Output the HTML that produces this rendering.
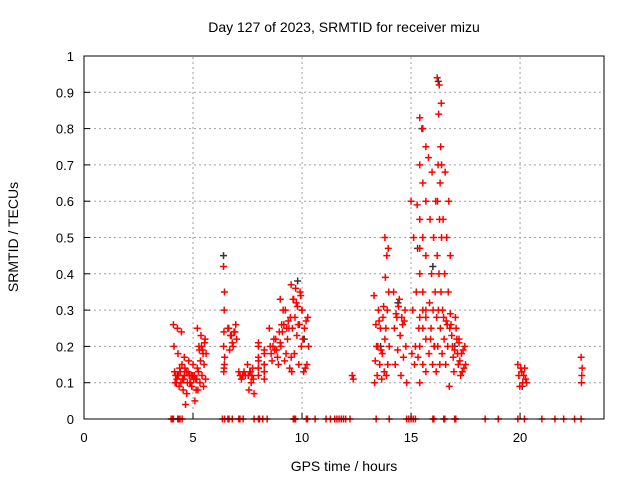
<!DOCTYPE html>
<html><head><meta charset="utf-8"><style>
body{margin:0;background:#fff}
svg text{font-family:"Liberation Sans",sans-serif;fill:#000}
</style></head><body>
<svg id="chart" width="640" height="480" viewBox="0 0 640 480" xmlns="http://www.w3.org/2000/svg">
<rect width="640" height="480" fill="#fff"/>
<text x="344" y="32" font-size="14" text-anchor="middle">Day 127 of 2023, SRMTID for receiver mizu</text>
<text x="344" y="471" font-size="14" text-anchor="middle">GPS time / hours</text>
<text x="18" y="237" font-size="14" text-anchor="middle" transform="rotate(-90 18 237)">SRMTID / TECUs</text>
<g id="grid"></g><g id="marks"></g><g id="axes"></g>
</svg>
<script>
const xTicks=[0,5,10,15,20];
const yTicks=[0,0.1,0.2,0.3,0.4,0.5,0.6,0.7,0.8,0.9,1];
const yTickLabels=["0","0.1","0.2","0.3","0.4","0.5","0.6","0.7","0.8","0.9","1"];
const clusterStart=[4.1,4.6,5.2,6.4,6.6,7.1,7.5,8.0,8.5,9.0,9.5,10.0,12.3,13.3,13.8,14.2,15.0,15.4,15.8,16.2,16.4,16.8,17.2,19.9,22.8];
const clusterEnd=[4.6,5.2,5.6,6.45,7.0,7.4,7.8,8.5,9.0,9.5,10.0,10.3,12.35,13.8,14.0,14.8,15.4,15.8,16.2,16.4,16.8,17.2,17.5,20.3,22.85];
const clusterValues=[
[0.26,0.25,0.24,0.2,0.18,0.15,0.13,0.12,0.11,0.1,0.09,0.08,0.12,0.14,0.11,0.1,0.13,0.12,0.11,0.1],
[0.17,0.16,0.15,0.14,0.13,0.12,0.11,0.1,0.09,0.08,0.07,0.12,0.11,0.13,0.1,0.05,0.04,0.1,0.12,0.14,0.12,0.11],
[0.25,0.23,0.21,0.2,0.19,0.18,0.16,0.15,0.13,0.12,0.11,0.1,0.09,0.08,0.2,0.22,0.19,0.18],
[0.42,0.35,0.3,0.24,0.2,0.17,0.15,0.14,0.13],
[0.25,0.24,0.23,0.22,0.2,0.19,0.26,0.21,0.25,0.24,0.23],
[0.13,0.12,0.11,0.12,0.13,0.12],
[0.15,0.14,0.13,0.12,0.11,0.1,0.08,0.07,0.12,0.13],
[0.2,0.18,0.17,0.15,0.14,0.13,0.12,0.11,0.16,0.19,0.21,0.13,0.14,0.15],
[0.25,0.22,0.2,0.19,0.18,0.17,0.16,0.15,0.2,0.24,0.22,0.21,0.19],
[0.33,0.3,0.28,0.26,0.25,0.24,0.22,0.2,0.18,0.17,0.16,0.14,0.3,0.27,0.26,0.25],
[0.37,0.36,0.35,0.33,0.31,0.3,0.28,0.26,0.25,0.23,0.2,0.18,0.15,0.13,0.32,0.34,0.33,0.26],
[0.3,0.28,0.27,0.25,0.22,0.2,0.15,0.14,0.13],
[0.12,0.11],
[0.34,0.3,0.28,0.26,0.25,0.22,0.2,0.18,0.16,0.15,0.13,0.12,0.11,0.1,0.27,0.31,0.2,0.19],
[0.5,0.47,0.45,0.39,0.35,0.3,0.25,0.2,0.15,0.12],
[0.35,0.33,0.3,0.28,0.26,0.25,0.23,0.2,0.19,0.17,0.15,0.12,0.1,0.31,0.27,0.29,0.28],
[0.6,0.59,0.5,0.47,0.35,0.3,0.25,0.2,0.18,0.17,0.15],
[0.83,0.8,0.75,0.7,0.65,0.6,0.55,0.5,0.45,0.4,0.35,0.3,0.28,0.25,0.22,0.2,0.15,0.13,0.1,0.3,0.28],
[0.72,0.68,0.6,0.55,0.5,0.45,0.4,0.35,0.32,0.3,0.28,0.25,0.2,0.18,0.15,0.13,0.22,0.2],
[0.94,0.92,0.87,0.84,0.75,0.7,0.65,0.6,0.55,0.5,0.4,0.35,0.3,0.25,0.2,0.15],
[0.7,0.68,0.6,0.55,0.5,0.45,0.4,0.35,0.3,0.27,0.25,0.22,0.2,0.18,0.15,0.09,0.28,0.26],
[0.29,0.28,0.26,0.25,0.23,0.22,0.2,0.18,0.17,0.15,0.13,0.21,0.19],
[0.22,0.2,0.19,0.18,0.16,0.15,0.14,0.13,0.12],
[0.15,0.14,0.13,0.12,0.11,0.1,0.09,0.1,0.12,0.14],
[0.17,0.14,0.12,0.1]];
const greyTimes=[6.4,15.5,16.25,9.8,13.6,15.3,16.0,4.3,17.0,20.1,10.1,14.4];
const greyValues=[0.45,0.8,0.93,0.38,0.2,0.47,0.42,0.12,0.2,0.09,0.22,0.32];
const zeroTimes=[4.0,4.05,4.1,4.3,4.35,4.4,4.5,6.35,6.45,6.6,6.65,6.8,7.1,7.15,7.3,7.8,8.0,8.05,8.2,8.4,9.6,9.65,9.7,10.2,10.25,10.6,11.1,11.3,11.5,11.6,11.7,11.8,11.9,12.0,12.2,13.4,14.0,14.8,14.9,15.0,15.1,15.2,16.0,16.05,16.5,16.55,17.0,17.05,18.4,19.0,19.9,20.2,21.0,21.6,22.0,22.5,22.8];
const X0=84,X1=604,Y0=419,Y1=56,XMAX=23.85;
const sx=v=>X0+v/XMAX*(X1-X0), sy=v=>Y0-v*(Y0-Y1);
const NS="http://www.w3.org/2000/svg";
function mk(tag,attrs,parent){const e=document.createElementNS(NS,tag);for(const k in attrs)e.setAttribute(k,attrs[k]);parent.appendChild(e);return e;}
const grid=document.getElementById('grid'),marks=document.getElementById('marks'),axes=document.getElementById('axes');
yTicks.forEach((t,i)=>{
  if(t>0&&t<1){const l=mk('line',{x1:X0,x2:X1,y1:sy(t),y2:sy(t),stroke:'#a0a0a0','stroke-dasharray':'2,3'},grid);
  
  }
  const tl=mk('line',{x1:X0,x2:X0+6,y1:sy(t),y2:sy(t),stroke:'#000'},axes);
  
  
  const tx=mk('text',{x:X0-10,y:sy(t)+5,'font-size':13,'text-anchor':'end'},axes);tx.textContent=yTickLabels[i];
  
  
});
xTicks.forEach(t=>{
  if(t>0){const l=mk('line',{x1:sx(t),x2:sx(t),y1:Y0,y2:Y1,stroke:'#a0a0a0','stroke-dasharray':'2,3'},grid);
  
  }
  const tl=mk('line',{x1:sx(t),x2:sx(t),y1:Y0,y2:Y0-6,stroke:'#000'},axes);
  
  
  const tx=mk('text',{x:sx(t),y:Y0+23,'font-size':13,'text-anchor':'middle'},axes);tx.textContent=String(t);
  
  
});
const fr=mk('rect',{x:X0,y:Y1,width:X1-X0,height:Y0-Y1,fill:'none',stroke:'#000'},axes);


function plus(x,y,color,name){const p=mk('path',{d:`M${x-3.5},${y}h7M${x},${y-3.5}v7`,stroke:color,'stroke-width':1.5,fill:'none'},marks);

}
greyTimes.forEach((t,i)=>plus(sx(t),sy(greyValues[i]),'#333','grey-point'));
clusterValues.forEach((vals,c)=>{
  const a=clusterStart[c],b=clusterEnd[c],n=vals.length;
  vals.forEach((v,i)=>{const t=a+(b-a)*((i*7)%n)/Math.max(1,n-1);plus(sx(t),sy(v),'#ff0000','srmtid-point');});
});
zeroTimes.forEach(t=>plus(sx(t),sy(0),'#ff0000','zero-point'));
</script>
</body></html>
